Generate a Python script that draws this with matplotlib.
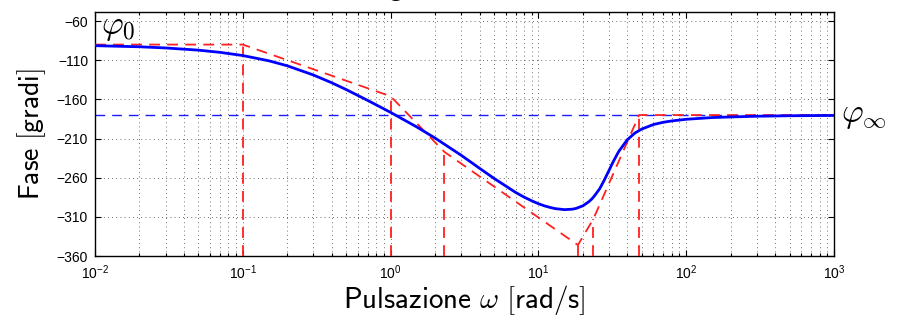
import numpy as np
import matplotlib
matplotlib.use("Agg")
import matplotlib.pyplot as plt
from matplotlib.ticker import LogLocator, FixedLocator, NullFormatter

# Phase curve (rad/s, degrees)
omega = [0.01, 0.02, 0.03, 0.05, 0.07, 0.1, 0.15, 0.2, 0.3, 0.4, 0.5, 0.7,
         1, 1.5, 2, 3, 4, 5, 7, 8, 9, 10, 11, 12, 13, 15, 17, 18, 20, 22,
         23, 24, 26, 27, 28, 30, 32, 35, 40, 45, 50, 60, 70, 80, 100, 150,
         200, 300, 500, 1000]
phase = [-91.4, -92.8, -94.3, -97.1, -99.9, -104.0, -110.7, -117.1, -128.8,
         -138.8, -147.4, -161.3, -176.6, -195.1, -209.4, -231.3, -248.0,
         -260.8, -278.7, -284.8, -289.5, -293.2, -296.0, -298.0, -299.5,
         -300.8, -300.2, -299.2, -295.9, -290.5, -287.1, -283.0, -274.0,
         -268.2, -262.5, -250.9, -239.9, -226.3, -211.4, -202.9, -197.9,
         -192.1, -189.2, -187.5, -185.4, -183.2, -182.4, -181.5, -180.9,
         -180.5]

# Asymptotic (broken line) approximation
omega_asym = [0.01, 0.1, 1, 2.31, 18.5, 23.5, 48, 1000]
phase_asym = [-90, -90, -156, -227, -346, -313, -180, -180]

phi_inf = -180
yticks = [-360, -310, -260, -210, -160, -110, -60]
xticks = [1e-2, 1e-1, 1e0, 1e1, 1e2, 1e3]
xticklabels = [r'$\mathregular{10^{-2}}$', r'$\mathregular{10^{-1}}$',
               r'$\mathregular{10^{0}}$', r'$\mathregular{10^{1}}$',
               r'$\mathregular{10^{2}}$', r'$\mathregular{10^{3}}$']

plt.rcParams['font.family'] = ['Liberation Sans', 'DejaVu Sans']
plt.rcParams['mathtext.fontset'] = 'cm'

fig = plt.figure(figsize=(9.03, 3.2), dpi=100)
ax = fig.add_axes([0.1052, 0.2, 0.8184, 0.761])

ax.semilogx(omega, phase, color='#0000ff', lw=2.0, zorder=4)
ax.semilogx(omega_asym, phase_asym, color='#ff2020', lw=1.3,
            dashes=(6, 4), zorder=3)
ax.axhline(phi_inf, color='#1a1aff', lw=1.0, dashes=(7, 5), zorder=2)

# vertical markers at the break points, from the bottom up to the asymptote
for w, p in zip(omega_asym[1:-1], phase_asym[1:-1]):
    ax.plot([w, w], [-360, p], color='#ff2020', lw=1.3, dashes=(6, 4), zorder=3)

ax.set_xlim(1e-2, 1e3)
ax.set_ylim(-360, -49)
ax.set_xticks(xticks)
ax.set_xticklabels(xticklabels)
ax.xaxis.set_minor_locator(LogLocator(base=10, subs=np.arange(2, 10), numticks=20))
ax.xaxis.set_minor_formatter(NullFormatter())
ax.yaxis.set_major_locator(FixedLocator(yticks))
ax.set_yticklabels([str(v).replace('-', '\u2212') for v in yticks])

ax.tick_params(which='both', direction='in', top=True, right=True,
               labelsize=10, width=0.8)
ax.tick_params(which='major', length=4.5, pad=5)
ax.tick_params(which='minor', length=2.5)
for s in ax.spines.values():
    s.set_linewidth(1.0)

grid_kw = dict(color='0.25', lw=0.6, linestyle=(0, (1, 4)))
ax.grid(True, which='major', **grid_kw)
ax.grid(True, which='minor', axis='x', **grid_kw)
ax.set_axisbelow(True)

ax.set_xlabel(r'$\mathsf{Pulsazione}\ \omega\ \mathsf{[rad/s]}$', fontsize=21,
              labelpad=1)
ax.set_ylabel(r'$\mathsf{Fase\ [gradi]}$', fontsize=20, labelpad=6)

ax.text(0.008, 1.0, r'$\varphi_0$', transform=ax.transAxes, fontsize=24,
        ha='left', va='top')
ax.text(1.01, phi_inf, r'$\varphi_\infty$', transform=ax.get_yaxis_transform(),
        fontsize=24, ha='left', va='center')

# title mostly cut off by the top edge of the image
ax.text(0.5, 1.068, r'$\mathsf{Diagramma\ di\ Bode}$', transform=ax.transAxes,
        fontsize=20, ha='center', va='baseline', clip_on=False)

fig.savefig('out.png', dpi=100)
